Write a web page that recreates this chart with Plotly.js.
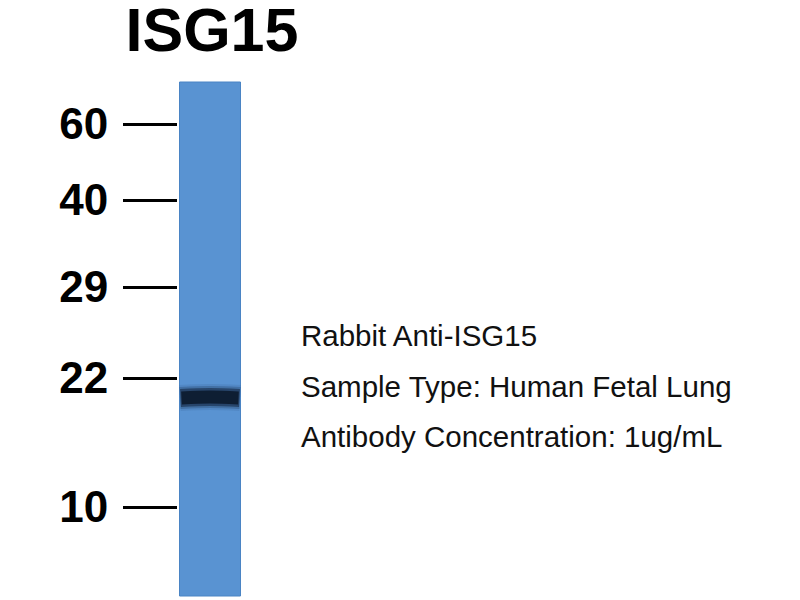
<!DOCTYPE html>
<html>
<head>
<meta charset="utf-8">
<script src="https://cdn.plot.ly/plotly-3.0.1.min.js"></script>
<style>
  html, body { margin: 0; padding: 0; background: #fff; }
  #blot { width: 800px; height: 600px; }
</style>
</head>
<body>
<div id="blot"></div>
<script>
// marker ladder (kDa) and where each one ran on the gel (distance from top)
const markerKDa = ['60', '40', '29', '22', '10'];
const markerPos = [124, 200, 287, 378, 507];

// single detected band in the lane
const bandLabel = ['ISG15'];
const bandPos = [397];

const infoLines = [
  'Rabbit Anti-ISG15',
  'Sample Type: Human Fetal Lung',
  'Antibody Concentration: 1ug/mL'
];

const laneTop = 82, laneBottom = 596, laneCenter = 210, laneWidth = 61;
const laneBlue = '#5993d2';

let traces = [];

// the lane itself
traces.push({
  x: [laneCenter],
  y: [laneBottom - laneTop],
  base: [laneTop],
  width: [laneWidth],
  type: 'bar',
  marker: {color: laneBlue, line: {color: '#4a84c4', width: 1}},
  hoverinfo: 'skip'
});

// band, drawn a few times to get the soft edge
let bandStyles = [
  {w: 26, c: 'rgba(50,90,140,0.18)', inset: 0.5},
  {w: 22, c: 'rgba(30,55,90,0.3)', inset: 0.5},
  {w: 18, c: 'rgba(18,35,60,0.55)', inset: 1},
  {w: 13, c: 'rgba(12,26,45,0.9)', inset: 2}
];
for (var i = 0; i < bandStyles.length; i++) {
  let s = bandStyles[i];
  traces.push({
    x: [laneCenter - laneWidth / 2 + s.inset, laneCenter, laneCenter + laneWidth / 2 - s.inset],
    y: [bandPos[0] + 1, bandPos[0], bandPos[0] + 1],
    type: 'scatter',
    mode: 'lines',
    line: {color: s.c, width: s.w, shape: 'spline'},
    name: bandLabel[0],
    hoverinfo: 'skip'
  });
}

let annotations = [];
let lineY = [335, 386, 436];
for (var j = 0; j < infoLines.length; j++) {
  annotations.push({
    xref: 'x', yref: 'y',
    x: 299, y: lineY[j],
    xanchor: 'left', yanchor: 'middle',
    text: infoLines[j],
    showarrow: false,
    font: {family: 'Liberation Sans, Arial, sans-serif', size: 29.5, color: '#111'}
  });
}

let layout = {
  width: 800,
  height: 600,
  margin: {l: 0, r: 0, t: 0, b: 0},
  paper_bgcolor: '#fff',
  plot_bgcolor: '#fff',
  showlegend: false,
  bargap: 0,
  title: {
    text: 'ISG15',
    x: 212 / 800, xanchor: 'center', xref: 'paper',
    y: 1 - 30 / 600, yanchor: 'middle', yref: 'container',
    font: {family: 'Liberation Sans, Arial, sans-serif', size: 61, weight: 'bold', color: '#000'}
  },
  xaxis: {
    range: [0, 800],
    domain: [0, 1],
    visible: false,
    fixedrange: true
  },
  yaxis: {
    range: [600, 0],
    domain: [0, 1],
    anchor: 'free',
    position: 177 / 800,
    tickmode: 'array',
    tickvals: markerPos,
    ticktext: markerKDa,
    ticks: 'outside',
    ticklen: 54,
    tickwidth: 3,
    tickcolor: '#000',
    ticklabelstandoff: 6,
    showline: false,
    showgrid: false,
    zeroline: false,
    tickfont: {family: 'Liberation Sans, Arial, sans-serif', size: 44, weight: 'bold', color: '#000'}
  },
  annotations: annotations
};

Plotly.newPlot('blot', traces, layout, {staticPlot: true});
</script>
</body>
</html>
